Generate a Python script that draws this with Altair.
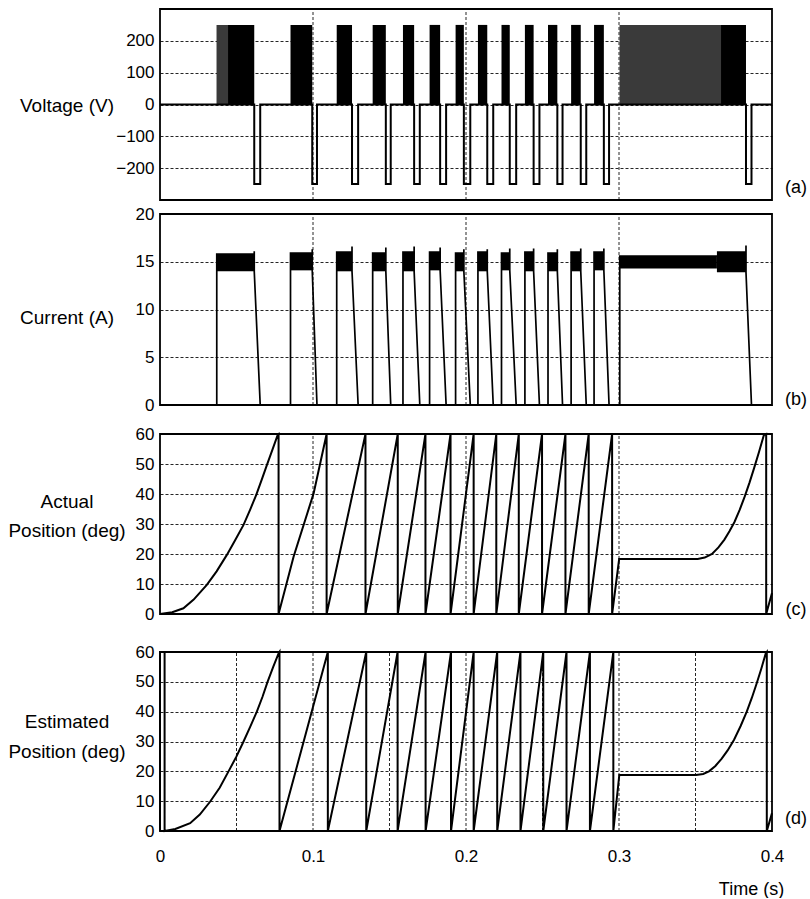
import altair as alt
import pandas as pd

FONT = "Liberation Sans"
T_END = 0.4

# ---------------------------------------------------------------------------
# Phase excitation timing (s): switch-on, start of demagnetisation, current gone
phase_on = [0.0371, 0.0853, 0.1155, 0.1390, 0.1588, 0.1762, 0.1932,
            0.2078, 0.2232, 0.2385, 0.2536, 0.2687, 0.2837, 0.3005]
phase_off = [0.0616, 0.0995, 0.1255, 0.1476, 0.1661, 0.1831, 0.1986,
             0.2139, 0.2286, 0.2442, 0.2597, 0.2750, 0.2901, 0.3830]
phase_end = [0.0655, 0.1026, 0.1295, 0.1508, 0.1698, 0.1870, 0.2028,
             0.2178, 0.2328, 0.2480, 0.2631, 0.2786, 0.2935, 0.3866]

# Stretches where the supply is chopped rather than held on (s)
chop_start = [0.0371, 0.3005]
chop_end = [0.0445, 0.3667]

supply_v = 250.0  # V

# Phase current per pulse (A)
cur_top = [15.8, 15.9, 16.0, 15.9, 16.0, 16.0, 15.9,
           16.0, 15.9, 16.0, 15.9, 16.0, 16.0, 15.6]
cur_spike = [16.1, 16.3, 16.6, 16.5, 16.6, 16.5, 16.3,
             16.3, 16.4, 16.4, 16.3, 16.4, 16.4, 16.7]
cur_turnoff = [14.0, 14.1, 14.0, 14.0, 14.0, 14.1, 14.0,
               14.0, 14.1, 14.0, 14.0, 14.0, 14.1, 13.9]

# Hysteresis band of the regulated current (s, A)
band_t0 = [0.0371, 0.0853, 0.1155, 0.1390, 0.1588, 0.1762, 0.1932, 0.2078,
           0.2232, 0.2385, 0.2536, 0.2687, 0.2837, 0.3005, 0.3640]
band_t1 = [0.0616, 0.0995, 0.1255, 0.1476, 0.1661, 0.1831, 0.1986, 0.2139,
           0.2286, 0.2442, 0.2597, 0.2750, 0.2901, 0.3640, 0.3830]
band_lo = [14.0, 14.1, 14.0, 14.0, 14.0, 14.1, 14.0, 14.0,
           14.1, 14.0, 14.0, 14.0, 14.1, 14.3, 13.9]
band_hi = [15.8, 15.9, 16.0, 15.9, 16.0, 16.0, 15.9, 16.0,
           15.9, 16.0, 15.9, 16.0, 16.0, 15.6, 16.1]

# Actual rotor position (deg): start-up curve, 60-deg wrap instants, other points
actual_head_t = [0.0, 0.0080, 0.0153, 0.0220, 0.0306, 0.0370, 0.0437, 0.0490,
                 0.0546, 0.0590, 0.0629, 0.0665, 0.0699, 0.0735, 0.0770]
actual_head_deg = [0.0, 0.6, 1.9, 4.8, 9.7, 14.2, 19.7, 24.5,
                   29.7, 34.9, 39.7, 44.8, 49.7, 54.8, 59.8]
actual_wraps = [0.0775, 0.1089, 0.1343, 0.1554, 0.1735, 0.1899, 0.2050,
                0.2198, 0.2345, 0.2497, 0.2650, 0.2802, 0.2955, 0.3962]
actual_extra_t = [0.0873, 0.1004,
                  0.3001, 0.3514, 0.3560, 0.3608, 0.3650, 0.3689, 0.3722,
                  0.3754, 0.3788, 0.3822, 0.3853, 0.3884, 0.3915, 0.3947,
                  0.4000]
actual_extra_deg = [19.1, 40.2,
                    18.3, 18.3, 18.8, 20.0, 22.2, 24.8, 27.6,
                    30.6, 34.6, 39.2, 43.8, 48.8, 54.0, 59.7,
                    7.0]

# Estimated rotor position (deg)
est_head_t = [0.0, 0.0, 0.0030, 0.0030, 0.0100, 0.0197, 0.0260, 0.0327,
              0.0390, 0.0447, 0.0500, 0.0546, 0.0590, 0.0633, 0.0670,
              0.0703, 0.0740, 0.0775]
est_head_deg = [0.0, 60.0, 60.0, 0.0, 0.7, 2.6, 5.5, 9.8,
                14.5, 19.9, 25.0, 30.0, 35.0, 40.0, 45.0,
                50.0, 55.0, 59.5]
est_wraps = [0.0781, 0.1097, 0.1348, 0.1553, 0.1736, 0.1902, 0.2050,
             0.2204, 0.2356, 0.2505, 0.2657, 0.2810, 0.2963, 0.3966]
est_extra_t = [0.3002, 0.3504, 0.3550, 0.3588, 0.3630, 0.3670, 0.3710,
               0.3752, 0.3795, 0.3835, 0.3868, 0.3898, 0.3930, 0.3959,
               0.4000]
est_extra_deg = [18.8, 18.8, 19.1, 20.0, 21.8, 24.2, 27.0,
                 30.6, 35.2, 40.0, 44.6, 49.2, 54.4, 59.5,
                 6.0]

# Axis ticks and grid positions
volt_ticks = [-200, -100, 0, 100, 200]
cur_ticks = [0, 5, 10, 15, 20]
pos_ticks = [0, 10, 20, 30, 40, 50, 60]
time_ticks = [0.0, 0.05, 0.1, 0.15, 0.2, 0.25, 0.3, 0.35, 0.4]
grid_coarse = [0.1, 0.2, 0.3]
grid_fine = [0.05, 0.1, 0.15, 0.2, 0.25, 0.3, 0.35]

panel_titles = ["Voltage (V)", "Current (A)",
                "Actual\nPosition (deg)", "Estimated\nPosition (deg)"]
panel_tags = ["(a)", "(b)", "(c)", "(d)"]

# Layout (pixels)
PLOT_W = 612
PLOT_H = [191, 191, 180, 179]
GAP = [0, 14, 29, 38]
TITLE_Y = [97, 118, 97, 108]      # first text line of each left title
TITLE_LH = [None, None, 29, 30]
TAG_Y = [179, 200, 205, 205]


def frame(points):
    return pd.DataFrame({"t": [p[0] for p in points],
                         "v": [p[1] for p in points],
                         "seq": list(range(len(points)))})


def voltage_path():
    pts = [(0.0, 0.0)]
    for off, end in zip(phase_off, phase_end):
        pts += [(off, 0.0), (off, -supply_v), (end, -supply_v), (end, 0.0)]
    pts.append((T_END, 0.0))
    return frame(pts)


def current_path():
    pts = [(0.0, 0.0)]
    for k in range(len(phase_on)):
        pts += [(phase_on[k], 0.0), (phase_on[k], cur_top[k]),
                (phase_off[k], cur_top[k]), (phase_off[k], cur_spike[k]),
                (phase_off[k], cur_turnoff[k]), (phase_end[k], 0.0)]
    pts.append((T_END, 0.0))
    return frame(pts)


def position_path(head_t, head_deg, wraps, extra_t, extra_deg):
    pts = list(zip(head_t, head_deg))
    for w in wraps:
        pts += [(w, 60.0), (w, 0.0)]
    pts += list(zip(extra_t, extra_deg))
    order = sorted(range(len(pts)), key=lambda i: (pts[i][0], i))
    return frame([pts[i] for i in order])


def text_layer(label, x, y, size, line_height=None):
    props = dict(font=FONT, fontSize=size, align="center", baseline="middle",
                 color="black")
    if line_height is not None:
        props["lineBreak"] = "\n"
        props["lineHeight"] = line_height
    return alt.Chart(pd.DataFrame({"label": [label]})).mark_text(**props).encode(
        x=alt.value(x), y=alt.value(y), text="label:N")


def corner_anchor():
    # a blank point that pins the left/top edge of the drawing
    return alt.Chart(pd.DataFrame({"k": [0]})).mark_rule(
        color="white", strokeWidth=1
    ).encode(x=alt.value(-159.5), x2=alt.value(-159.5),
             y=alt.value(-8.5), y2=alt.value(-8.5))


def panel(i, y_dom, y_ticks, signal_fn, grid_t, x_axis):
    h = GAP[i] + PLOT_H[i]
    xscale = alt.Scale(domain=[0, T_END], nice=False, zero=False)
    yscale = alt.Scale(domain=y_dom, range=[h, GAP[i]], nice=False, zero=False)
    yaxis = alt.Axis(values=y_ticks, grid=True, gridDash=[3, 2],
                     gridColor="black", gridWidth=1, gridOpacity=0.85,
                     ticks=False, domain=False, labelPadding=6,
                     labelFont=FONT, labelFontSize=17, labelColor="black",
                     labelOverlap=False, title=None)

    def X(f):
        return alt.X(f"{f}:Q", scale=xscale, axis=x_axis)

    def Y(f):
        return alt.Y(f"{f}:Q", scale=yscale, axis=yaxis)

    grid_df = pd.DataFrame({"t": grid_t, "v": [y_dom[0]] * len(grid_t),
                            "v2": [y_dom[1]] * len(grid_t)})
    grid = alt.Chart(grid_df).mark_rule(
        strokeDash=[3, 2], color="black", strokeWidth=1, opacity=0.85
    ).encode(x=X("t"), y=Y("v"), y2="v2")

    box_df = pd.DataFrame({"t": [0.0], "t2": [T_END],
                           "v": [y_dom[0]], "v2": [y_dom[1]]})
    box = alt.Chart(box_df).mark_rect(
        fillOpacity=0, stroke="black", strokeWidth=1.8
    ).encode(x=X("t"), x2="t2", y=Y("v"), y2="v2")

    layers = [grid] + signal_fn(X, Y) + [box]
    layers.append(text_layer(panel_titles[i], -93, TITLE_Y[i], 19,
                             line_height=TITLE_LH[i]))
    layers.append(text_layer(panel_tags[i], 636, TAG_Y[i], 18))
    if i == 0:
        layers.append(corner_anchor())
    return alt.layer(*layers).properties(width=PLOT_W, height=h)


def voltage_marks(X, Y):
    blocks = pd.DataFrame({"t": phase_on, "t2": phase_off,
                           "v": [0.0] * len(phase_on),
                           "v2": [supply_v] * len(phase_on)})
    chops = pd.DataFrame({"t": chop_start, "t2": chop_end,
                          "v": [0.0] * len(chop_start),
                          "v2": [supply_v] * len(chop_start)})
    return [
        alt.Chart(blocks).mark_rect(color="black").encode(
            x=X("t"), x2="t2", y=Y("v"), y2="v2"),
        alt.Chart(chops).mark_rect(color="#3a3a3a").encode(
            x=X("t"), x2="t2", y=Y("v"), y2="v2"),
        alt.Chart(voltage_path()).mark_line(color="black", strokeWidth=2).encode(
            x=X("t"), y=Y("v"), order="seq:Q"),
    ]


def current_marks(X, Y):
    band = pd.DataFrame({"t": band_t0, "t2": band_t1,
                         "v": band_lo, "v2": band_hi})
    return [
        alt.Chart(band).mark_rect(color="black").encode(
            x=X("t"), x2="t2", y=Y("v"), y2="v2"),
        alt.Chart(current_path()).mark_line(color="black", strokeWidth=1.7).encode(
            x=X("t"), y=Y("v"), order="seq:Q"),
    ]


def position_marks(df):
    def build(X, Y):
        return [alt.Chart(df).mark_line(color="black", strokeWidth=2).encode(
            x=X("t"), y=Y("v"), order="seq:Q")]
    return build


time_axis = alt.Axis(
    values=time_ticks, format="~g",
    labelExpr="round(datum.value * 20) % 2 == 0 ? datum.label : ''",
    grid=False, ticks=False, domain=False, labelPadding=17,
    labelFlush=False, labelOverlap=False,
    labelFont=FONT, labelFontSize=17, labelColor="black",
    title="Time (s)", titleFont=FONT, titleFontSize=18,
    titleFontWeight="normal", titleColor="black",
    titleX=591, titleY=58, titleAlign="center", titleBaseline="middle")

actual_df = position_path(actual_head_t, actual_head_deg, actual_wraps,
                          actual_extra_t, actual_extra_deg)
est_df = position_path(est_head_t, est_head_deg, est_wraps,
                       est_extra_t, est_extra_deg)

chart = alt.vconcat(
    panel(0, [-300, 300], volt_ticks, voltage_marks, grid_coarse, None),
    panel(1, [0, 20], cur_ticks, current_marks, grid_coarse, None),
    panel(2, [0, 60], pos_ticks, position_marks(actual_df), grid_coarse, None),
    panel(3, [0, 60], pos_ticks, position_marks(est_df), grid_fine, time_axis),
    spacing=0, bounds="flush",
).properties(
    padding=0, background="white"
).configure_view(strokeWidth=0)

chart.save("out.html", embed_options={"renderer": "svg", "actions": False})
